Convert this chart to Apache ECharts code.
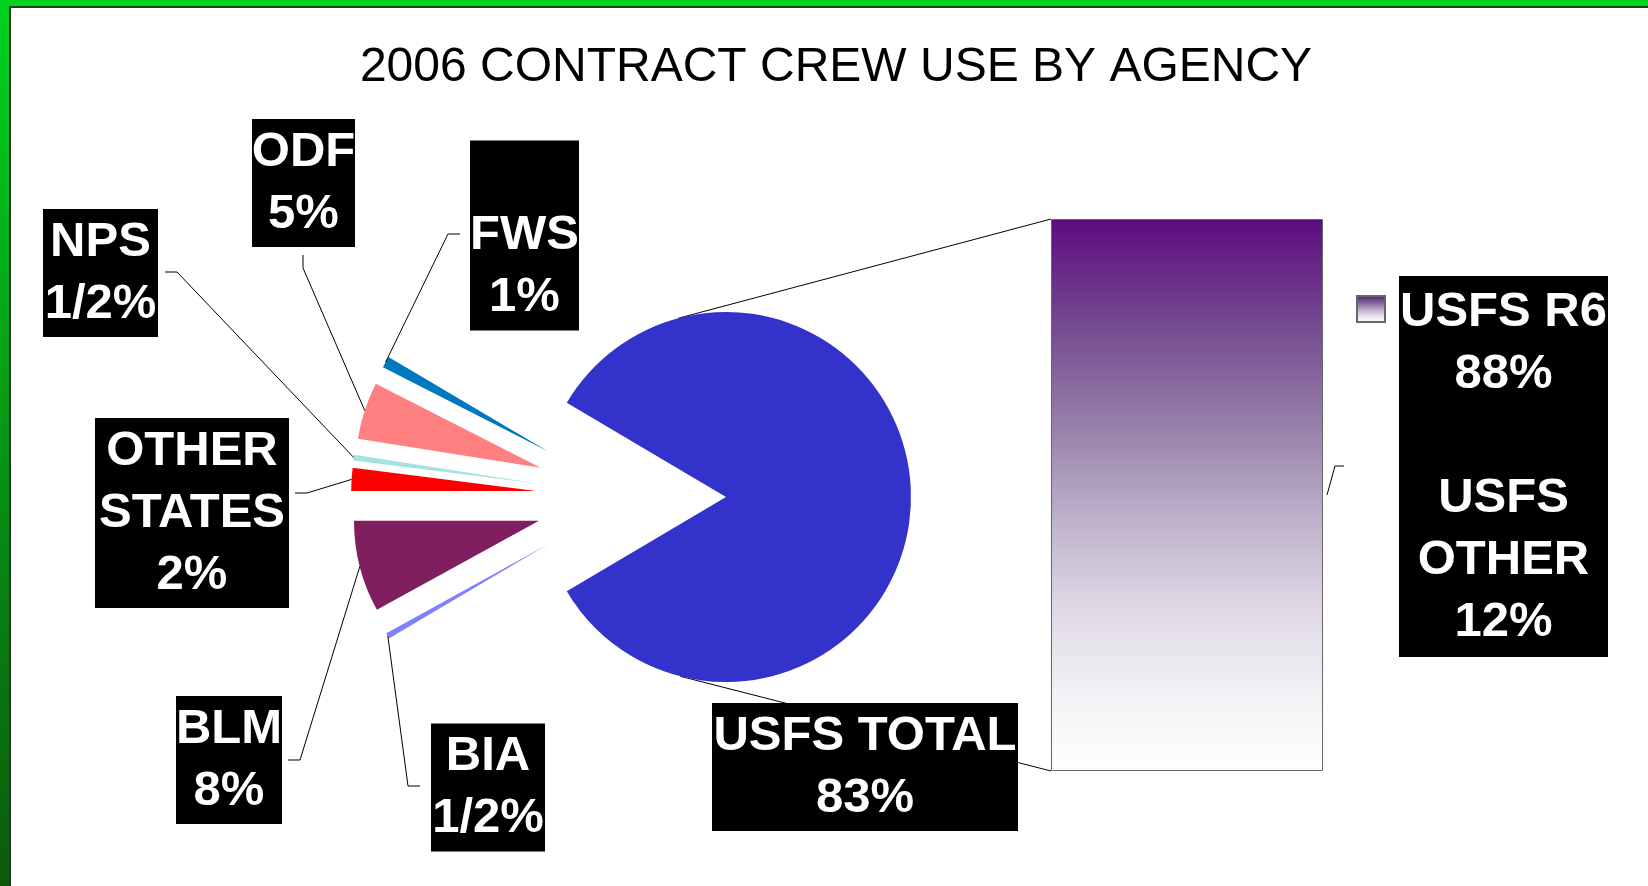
<!DOCTYPE html>
<html><head><meta charset="utf-8">
<style>html,body{margin:0;padding:0;background:#fff;}#c{width:1648px;height:886px;}</style>
<script src="https://cdn.jsdelivr.net/npm/echarts@6/dist/echarts.min.js"></script>
</head><body><div id="c"></div>
<script>
// ---------- data ----------
const titleText = '2006 CONTRACT CREW USE BY AGENCY';
const categories = ['BIA', 'BLM', 'OTHER STATES', 'NPS', 'ODF', 'FWS', 'USFS TOTAL'];
const shares = [0.5, 8, 2, 0.5, 5, 1, 83];
const usfsSplitNames = ['USFS R6', 'USFS OTHER'];
const usfsSplitShares = [88, 12];

// ---------- styles / layout ----------
const FONT = '"Liberation Sans", Arial, sans-serif';
const TITLE_SIZE = 48;
const LABEL_SIZE = 49;
const LINE_H = 62;
const sliceColors = ['#8080ff', '#7f1f5f', '#ff0000', '#a6e1e1', '#ff8080', '#0078bf', '#3333cc'];
const PIE = { cx: 631, cy: 497, r: 185, offset: 95 };
const GRID = { left: 1051, top: 219, width: 272, height: 552 };
const wrapNames = { 'OTHER STATES': true, 'USFS OTHER': true };
const labelBoxes = {
  'BIA':          { x: 488,   y: 787.5, w: 114, line: [[420, 786], [408, 786]] },
  'BLM':          { x: 229,   y: 760,   w: 106, line: [[288, 760], [300, 760]] },
  'OTHER STATES': { x: 192,   y: 513,   w: 194, line: [[295, 493], [307, 493]] },
  'NPS':          { x: 100.5, y: 273,   w: 115, line: [[165, 272], [177, 272]] },
  'ODF':          { x: 303.5, y: 183,   w: 103, line: [[303, 255], [303, 268]] },
  'FWS':          { x: 524.5, y: 235.5, w: 109, blankTop: true, line: [[460, 234], [448, 234]] },
  'USFS TOTAL':   { x: 865,   y: 767,   w: 306, line: null }
};
const rightBox = { x: 1503.5, y: 466.5, w: 209 };
const titleCenterX = 836;

function wrapName(n) { return wrapNames[n] ? n.replace(' ', '\n') : n; }
function pctText(v) { return v === 0.5 ? '1/2%' : v + '%'; }

const total = shares.reduce((a, b) => a + b, 0);
const othersTotal = total - shares[shares.length - 1];
const startAngle = 180 + 360 * othersTotal / total / 2;
const usfsTotal = usfsSplitShares.reduce((a, b) => a + b, 0);

function midAngle(i) {
  let cum = 0;
  for (let k = 0; k < i; k++) cum += shares[k];
  return (startAngle - (cum + shares[i] / 2) / total * 360) * Math.PI / 180;
}
function sliceAnchor(i) {
  const m = midAngle(i), R = PIE.offset + PIE.r;
  return [PIE.cx + R * Math.cos(m), PIE.cy - R * Math.sin(m)];
}

// measure title width to centre it on titleCenterX
const mctx = document.createElement('canvas').getContext('2d');
mctx.font = TITLE_SIZE + 'px ' + FONT;
const titleW = mctx.measureText(titleText).width;

const chart = echarts.init(document.getElementById('c'), null, { renderer: 'canvas' });

const barGradient = new echarts.graphic.LinearGradient(0, 0, 0, 1, [
  { offset: 0, color: '#5c0c80' },
  { offset: 0.2, color: '#754c91' },
  { offset: 0.4, color: '#9c87ae' },
  { offset: 0.55, color: '#bfb3cb' },
  { offset: 0.7, color: '#ddd7e4' },
  { offset: 0.85, color: '#f2f0f4' },
  { offset: 1, color: '#ffffff' }
]);

const labelStyle = {
  show: true,
  formatter: p => {
    const b = labelBoxes[p.name];
    return (b.blankTop ? ' \n' : '') + wrapName(p.name) + '\n' + pctText(p.value);
  },
  color: '#fff', backgroundColor: '#000',
  fontFamily: FONT, fontWeight: 'bold', fontSize: LABEL_SIZE, lineHeight: LINE_H,
  align: 'center',
  overflow: 'none',
  padding: [2, 1, 2, 1]
};

const option = {
  animation: false,
  backgroundColor: '#ffffff',
  title: {
    text: titleText,
    left: titleCenterX - titleW / 2,
    top: 44,
    padding: 0,
    textStyle: { fontFamily: FONT, fontSize: TITLE_SIZE, fontWeight: 'normal', color: '#000' }
  },
  legend: {
    data: ['USFS'],
    left: 1356, top: 295,
    itemWidth: 28, itemHeight: 26, icon: 'rect', padding: 0,
    formatter: () => '',
    selectedMode: false
  },
  grid: { left: GRID.left, top: GRID.top, width: GRID.width, height: GRID.height },
  xAxis: { type: 'category', data: ['USFS'], show: false },
  yAxis: { type: 'value', min: 0, max: 100, show: false },
  series: [
    {
      // exploded slices
      type: 'pie',
      center: [PIE.cx, PIE.cy],
      radius: PIE.r,
      startAngle: startAngle,
      clockwise: true,
      selectedMode: 'multiple',
      selectedOffset: PIE.offset,
      avoidLabelOverlap: false,
      emphasis: { disabled: true },
      silent: true,
      z: 3,
      label: { show: false },
      labelLine: { show: false },
      data: categories.map((n, i) => ({
        name: n, value: shares[i], selected: true,
        itemStyle: { color: sliceColors[i] }
      }))
    },
    {
      // labels for the slices (same data, invisible sectors)
      type: 'pie',
      center: [PIE.cx, PIE.cy],
      radius: PIE.r,
      startAngle: startAngle,
      clockwise: true,
      selectedMode: false,
      avoidLabelOverlap: false,
      emphasis: { disabled: true },
      silent: true,
      z: 4,
      label: labelStyle,
      labelLine: { show: true, lineStyle: { color: '#000', width: 1 } },
      labelLayout: p => {
        const b = labelBoxes[categories[p.dataIndex]];
        const o = { x: b.x, y: b.y, align: 'center', verticalAlign: 'middle' };
        if (b.line) o.labelLinePoints = [b.line[0], b.line[1], sliceAnchor(p.dataIndex)];
        return o;
      },
      data: categories.map((n, i) => ({
        name: n, value: shares[i],
        itemStyle: { color: 'rgba(0,0,0,0)' },
        label: { width: labelBoxes[n].w - 2, overflow: 'none' },
        labelLine: { show: !!labelBoxes[n].line }
      }))
    },
    {
      type: 'bar',
      name: 'USFS',
      barWidth: '100%',
      emphasis: { disabled: true },
      silent: true,
      itemStyle: { color: barGradient, borderColor: '#666', borderWidth: 1 },
      label: {
        show: true,
        position: 'right',
        backgroundColor: '#000',
        padding: [5, 1, 4, 1],
        align: 'center',
        formatter: () => {
          const lines = [];
          usfsSplitNames.forEach((n, i) => {
            if (i) lines.push(' ');
            wrapName(n).split('\n').forEach(s => lines.push(s));
            lines.push(pctText(usfsSplitShares[i]));
          });
          return lines.map(s => '{t|' + s + '}').join('\n');
        },
        rich: {
          t: { width: rightBox.w - 2, align: 'center', color: '#fff', fontFamily: FONT, fontWeight: 'bold', fontSize: LABEL_SIZE, lineHeight: LINE_H }
        }
      },
      labelLayout: () => ({ x: rightBox.x, y: rightBox.y, align: 'center', verticalAlign: 'middle' }),
      data: [usfsTotal]
    }
  ]
};
chart.setOption(option);

// connector lines (tangents from bar corners to the USFS slice circle)
function tangentPoint(px, py, cx, cy, r, sign) {
  const dx = px - cx, dy = py - cy, d = Math.hypot(dx, dy);
  const ang = Math.atan2(dy, dx) + sign * Math.acos(r / d);
  return [cx + r * Math.cos(ang), cy + r * Math.sin(ang)];
}
const usfsIdx = shares.length - 1;
const um = midAngle(usfsIdx);
const ucx = PIE.cx + PIE.offset * Math.cos(um), ucy = PIE.cy - PIE.offset * Math.sin(um);
const barTop = chart.convertToPixel({ xAxisIndex: 0, yAxisIndex: 0 }, [0, usfsTotal]);
const barBot = chart.convertToPixel({ xAxisIndex: 0, yAxisIndex: 0 }, [0, 0]);
const barMid = chart.convertToPixel({ xAxisIndex: 0, yAxisIndex: 0 }, [0, usfsTotal / 2]);
const barRight = GRID.left + GRID.width;
const tl = [GRID.left, barTop[1]], bl = [GRID.left, barBot[1]];
const t1 = tangentPoint(tl[0], tl[1], ucx, ucy, PIE.r, -1);
const t2 = tangentPoint(bl[0], bl[1], ucx, ucy, PIE.r, 1);
const ax = barRight + 4, ay = barMid[1];

chart.setOption({
  graphic: [
    { type: 'line', z: 1, silent: true, shape: { x1: t1[0], y1: t1[1], x2: tl[0], y2: tl[1] }, style: { stroke: '#000', lineWidth: 1 } },
    { type: 'line', z: 1, silent: true, shape: { x1: t2[0], y1: t2[1], x2: bl[0], y2: bl[1] }, style: { stroke: '#000', lineWidth: 1 } },
    { type: 'polyline', z: 1, silent: true, shape: { points: [[ax, ay], [ax + 8, ay - 29], [ax + 17, ay - 29]] }, style: { stroke: '#000', lineWidth: 1, fill: null } },
    { type: 'rect', z: 100, silent: true, shape: { x: 0, y: 0, width: 1648, height: 6 }, style: { fill: '#00d21e' } },
    { type: 'rect', z: 100, silent: true, shape: { x: 0, y: 6, width: 1648, height: 2 }, style: { fill: '#1d441d' } },
    { type: 'rect', z: 101, silent: true, shape: { x: 0, y: 0, width: 9, height: 886 },
      style: { fill: new echarts.graphic.LinearGradient(0, 0, 0, 1, [{ offset: 0, color: '#00d21e' }, { offset: 1, color: '#0b5a0b' }]) } },
    { type: 'rect', z: 101, silent: true, shape: { x: 9, y: 6, width: 2, height: 880 }, style: { fill: '#2b352b' } }
  ]
});
</script>
</body></html>
